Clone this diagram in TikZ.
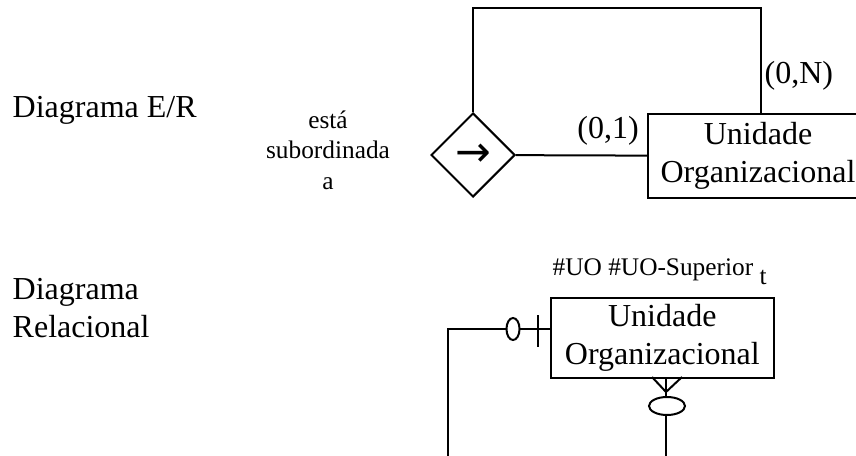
\documentclass[tikz,border=0pt]{standalone}
\usepackage{fontspec}
\setmainfont{Liberation Serif}
\newfontfamily\arrowfont{DejaVu Sans}
\usepackage{tikz}
\usetikzlibrary{positioning, shapes.geometric, calc}

\begin{document}
\begin{tikzpicture}[x=0.75pt, y=-0.75pt,
    title/.style={font=\fontsize{24}{28}\selectfont, align=left, anchor=west},
    entity/.style={rectangle, draw, line width=1.5pt, anchor=north west, align=center, font=\fontsize{24}{28}\selectfont, inner sep=0pt},
    relation/.style={diamond, draw, line width=1.5pt, minimum width=63pt, minimum height=63pt, inner sep=0pt, font=\arrowfont\fontsize{32}{32}\selectfont},
    card/.style={font=\fontsize{24}{28}\selectfont, inner sep=1pt},
    small/.style={font=\fontsize{19}{23}\selectfont, align=center},
    link/.style={line width=1.5pt}]
        \useasboundingbox (0,0) rectangle (856,456);
        \clip (0,0) rectangle (856,456);

        % E/R diagram
        \node[title] (erTitle) at (8,110) {Diagrama E/R};
        \node[small] (relName) at (328,150) {está\\subordinada\\a};
        \node[relation] (rel) at (473,155) {→};
        \node[entity, minimum width=165pt, minimum height=63pt] (ent1) at (647,113) {Unidade\\Organizacional};

        \coordinate (loopCorner) at (761,8);
        \draw[link] (rel.north) |- (loopCorner) -- (ent1.north -| loopCorner);
        \draw[link] (rel) -- (ent1);

        \node[card, anchor=west] (cardN) at (763,76) {(0,N)};
        \node[card] (card1) at (608,131) {(0,1)};

        % Relational diagram
        \node[title] (relTitle) at (8,308) {Diagrama\\Relacional};
        \node[small, anchor=west] (keys) at (548,272) {\#UO \#UO-Superior \raisebox{-0.35em}{t}};
        \node[entity, minimum width=167pt, minimum height=60pt] (ent2) at (550,297) {Unidade\\Organizacional};

        \coordinate (leftEnd) at (448,456);
        \coordinate (downEnd) at (666,456);
        \coordinate (leftJoin) at ($(ent2.north west)+(0,32)$);
        \draw[link] (leftJoin) -| (leftEnd);
        \draw[link] (ent2.south -| downEnd) -- (downEnd);

        % zero or one
        \draw[link] (538,315) -- (538,347);
        \draw[link, fill=white] (513,329) ellipse [x radius=4.9pt, y radius=8.25pt];

        % zero or many
        \draw[link] (652,377) -- (666,392) -- (682,377);
        \draw[link, fill=white] (667,406) ellipse [x radius=13.5pt, y radius=6.75pt];
    \end{tikzpicture}
\end{document}
